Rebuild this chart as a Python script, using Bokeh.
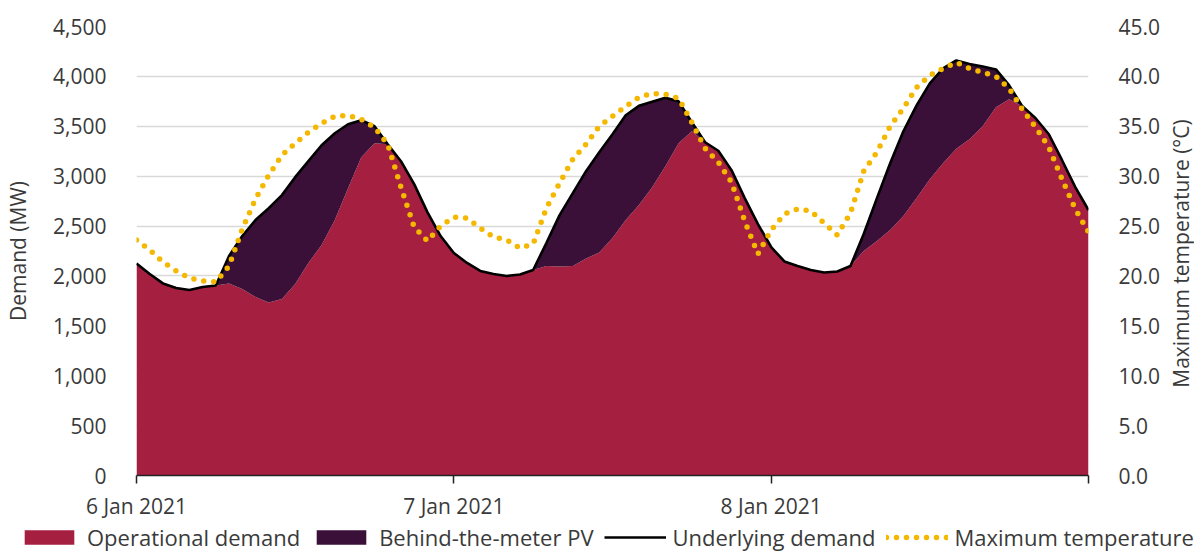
import math
from bokeh.plotting import figure
from bokeh.layouts import column, row
from bokeh.models import (Range1d, LinearAxis, FixedTicker, NumeralTickFormatter,
                          Legend, LegendItem, ColumnDataSource, Label)
from bokeh.embed import file_html
from bokeh.resources import INLINE

# hours since 6 Jan 2021 00:00
hours = list(range(73))

underlying_demand = [
    2125, 2020, 1925, 1880, 1860, 1890, 1905, 2200, 2400, 2560,
    2680, 2810, 2990, 3150, 3310, 3430, 3520, 3560, 3500, 3320,
    3150, 2920, 2640, 2400, 2230, 2130, 2050, 2020, 2000, 2015,
    2060, 2330, 2610, 2830, 3050, 3240, 3420, 3610, 3705, 3745,
    3785, 3750, 3540, 3340, 3255, 3060, 2780, 2520, 2290, 2145,
    2100, 2060, 2035, 2045, 2100, 2420, 2780, 3130, 3450, 3710,
    3930, 4080, 4160, 4125, 4100, 4070, 3910, 3700, 3580, 3420,
    3160, 2890, 2660]

operational_demand = [
    2125, 2020, 1925, 1880, 1860, 1890, 1905, 1925, 1870, 1790,
    1735, 1770, 1920, 2130, 2310, 2560, 2880, 3190, 3330, 3320,
    3150, 2920, 2640, 2400, 2230, 2130, 2050, 2020, 2000, 2015,
    2060, 2100, 2095, 2100, 2175, 2235, 2380, 2560, 2710, 2890,
    3100, 3330, 3450, 3340, 3255, 3060, 2780, 2520, 2290, 2145,
    2100, 2060, 2035, 2045, 2100, 2250, 2350, 2460, 2600, 2780,
    2970, 3130, 3275, 3370, 3500, 3690, 3770, 3700, 3580, 3420,
    3160, 2890, 2660]

max_temperature = [
    23.6, 22.6, 21.4, 20.5, 19.8, 19.5, 19.4, 21.0, 24.7, 27.7,
    30.1, 32.1, 33.3, 34.4, 35.3, 36.0, 36.1, 35.7, 34.9, 33.2,
    28.9, 24.9, 23.5, 25.0, 25.9, 25.8, 24.8, 23.9, 23.6, 22.8,
    23.2, 26.8, 29.3, 31.7, 33.2, 35.0, 36.0, 37.0, 37.9, 38.3,
    38.2, 37.8, 35.4, 32.8, 31.4, 29.4, 25.5, 22.2, 24.6, 26.2,
    26.7, 26.5, 25.3, 24.1, 26.3, 30.5, 32.4, 35.0, 36.8, 38.9,
    40.1, 40.8, 41.4, 40.8, 40.4, 40.0, 38.8, 36.7, 34.9, 32.9,
    29.7, 26.7, 24.4]

x_ticks = [0, 24, 48, 72]
x_tick_labels = ["6 Jan 2021", "7 Jan 2021", "8 Jan 2021", ""]
demand_ticks = [0, 500, 1000, 1500, 2000, 2500, 3000, 3500, 4000, 4500]
temp_ticks = [0, 5, 10, 15, 20, 25, 30, 35, 40, 45]
series_names = ["Operational demand", "Behind-the-meter PV",
                "Underlying demand", "Maximum temperature"]

RED = "#A51F40"
PURPLE = "#3A1038"
YELLOW = "#F5B800"
TEXT = "#3a3a3a"
FONT = "Open Sans"
FS = "21px"

src = ColumnDataSource(dict(h=hours, und=underlying_demand,
                            op=operational_demand, t=max_temperature))

# ---------------- main chart ----------------
p = figure(width=1164, height=522, x_range=Range1d(0, 72),
           y_range=Range1d(0, 4500), output_backend="svg",
           toolbar_location=None, min_border_left=136, min_border_right=76,
           min_border_top=26, min_border_bottom=45)
p.outline_line_color = None
p.extra_y_ranges = {"temp": Range1d(0, 45)}

p.varea(x="h", y1=0, y2="op", source=src, fill_color=RED)
p.varea(x="h", y1="op", y2="und", source=src, fill_color=PURPLE)
p.line(x="h", y="und", source=src, line_color="black", line_width=2.6)
p.line(x="h", y="t", source=src, y_range_name="temp", line_color=YELLOW,
       line_width=5.5, line_dash="0 10", line_cap="round")

xa = p.xaxis[0]
xa.ticker = FixedTicker(ticks=x_ticks)
xa.major_label_overrides = {k: v for k, v in zip(x_ticks, x_tick_labels)}
xa.minor_tick_line_color = None
xa.major_tick_in = 0
xa.major_tick_out = 8
xa.axis_line_color = "#222222"
xa.axis_line_width = 1.5
xa.major_tick_line_color = "#222222"
xa.major_tick_line_width = 1.5
xa.major_label_standoff = 8
xa.major_label_text_font = FONT
xa.major_label_text_font_size = FS
xa.major_label_text_color = TEXT

ya = p.yaxis[0]
ya.ticker = FixedTicker(ticks=demand_ticks)
ya.formatter = NumeralTickFormatter(format="0,0")
ya.axis_line_color = None
ya.major_tick_line_color = None
ya.minor_tick_line_color = None
ya.major_label_standoff = 24
ya.major_label_text_font = FONT
ya.major_label_text_font_size = FS
ya.major_label_text_color = TEXT
ya.axis_label = "Demand (MW)"
ya.axis_label_text_font = FONT
ya.axis_label_text_font_size = FS
ya.axis_label_text_font_style = "normal"
ya.axis_label_text_color = TEXT
ya.axis_label_standoff = 18

ra = LinearAxis(y_range_name="temp", ticker=FixedTicker(ticks=temp_ticks),
                formatter=NumeralTickFormatter(format="0.0"))
ra.axis_line_color = None
ra.major_tick_line_color = None
ra.minor_tick_line_color = None
ra.major_label_standoff = 24
ra.major_label_text_font = FONT
ra.major_label_text_font_size = FS
ra.major_label_text_color = TEXT
p.add_layout(ra, "right")

p.xgrid.visible = False
p.ygrid.grid_line_color = "#d9d9d9"
p.ygrid.grid_line_width = 1.5

# ---------------- right axis title strip ----------------
side = figure(width=30, height=522, x_range=Range1d(0, 1), y_range=Range1d(0, 1),
              output_backend="svg", toolbar_location=None, min_border=0,
              x_axis_type=None, y_axis_type=None)
side.outline_line_color = None
side.grid.visible = False
side.add_layout(Label(x=16, y=222, x_units="screen", y_units="screen",
                      text="Maximum temperature (°C)", angle=math.pi / 2,
                      text_align="center", text_baseline="middle",
                      text_font=FONT, text_font_size=FS, text_color=TEXT))

# ---------------- legend strip ----------------
leg = figure(width=1194, height=30, x_range=Range1d(0, 1), y_range=Range1d(-2, -1),
             output_backend="svg", toolbar_location=None, min_border=0,
             x_axis_type=None, y_axis_type=None)
leg.outline_line_color = None
leg.grid.visible = False
# same series as the chart; their data lie outside this strip's ranges,
# so only their legend swatches are seen
g_op = leg.varea(x="h", y1=0, y2="op", source=src, fill_color=RED)
g_pv = leg.varea(x="h", y1="op", y2="und", source=src, fill_color=PURPLE)
g_und = leg.line(x="h", y="und", source=src, line_color="black", line_width=2.6)
g_t = leg.line(x="h", y="t", source=src, line_color=YELLOW, line_width=5.5,
               line_dash="0 10", line_cap="round")

legend = Legend(items=[LegendItem(label=n, renderers=[r]) for n, r in
                       zip(series_names, [g_op, g_pv, g_und, g_t])],
                orientation="horizontal", location=(18, 0))
legend.padding = 0
legend.margin = 0
legend.spacing = 10
legend.label_standoff = 7
legend.glyph_width = 62
legend.glyph_height = 18
legend.label_height = 20
legend.label_text_font = FONT
legend.label_text_font_size = "22px"
legend.label_text_color = TEXT
legend.border_line_color = None
legend.background_fill_alpha = 0
leg.add_layout(legend)

layout = column(row(p, side), leg)
open("out.html", "w").write(file_html(layout, INLINE))
